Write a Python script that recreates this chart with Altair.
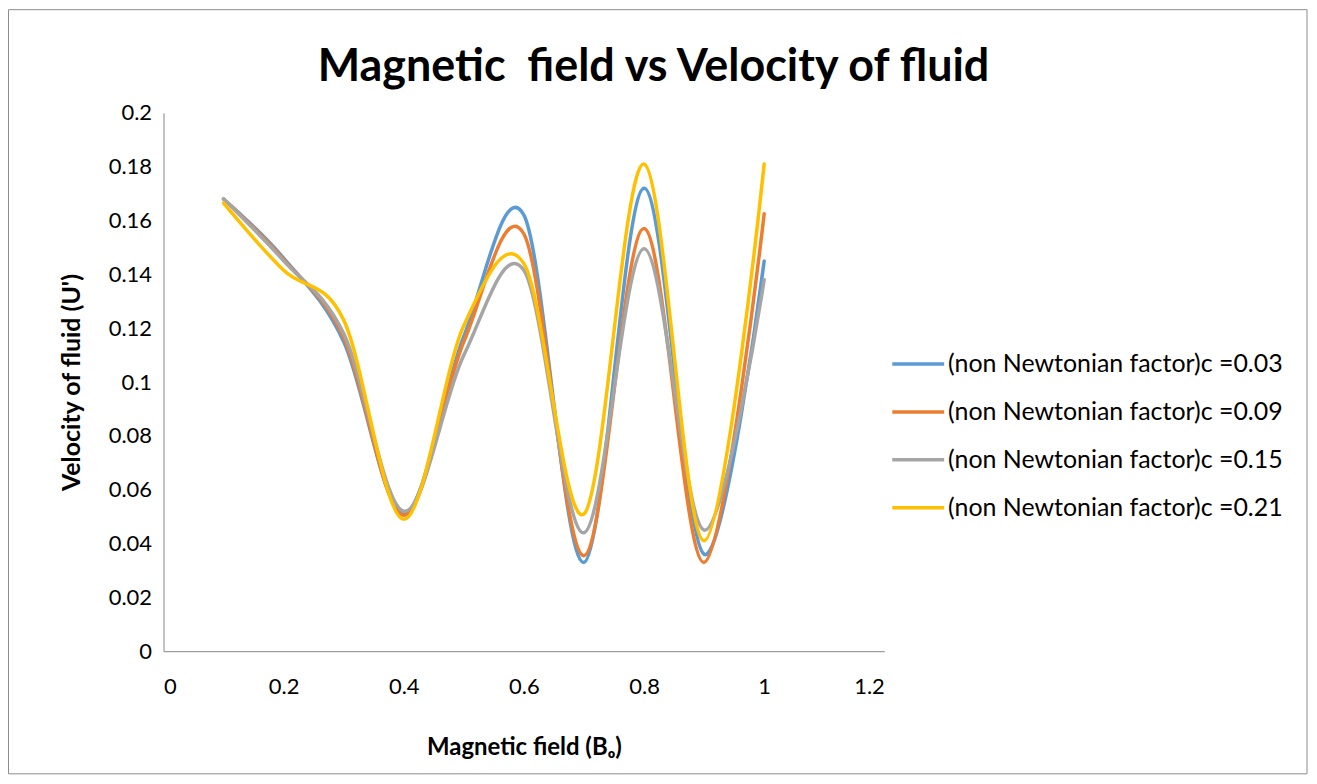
import altair as alt
import pandas as pd

# Magnetic field values (x)
b_field = [0.1, 0.2, 0.3, 0.4, 0.5, 0.6, 0.7, 0.8, 0.9, 1.0]

# Velocity of fluid for each non-Newtonian factor c
c_003 = [0.168, 0.146, 0.115, 0.051, 0.117, 0.162, 0.033, 0.172, 0.036, 0.145]
c_009 = [0.168, 0.1455, 0.1165, 0.0505, 0.115, 0.155, 0.0355, 0.157, 0.033, 0.1625]
c_015 = [0.168, 0.145, 0.118, 0.052, 0.110, 0.1415, 0.044, 0.1495, 0.045, 0.138]
c_021 = [0.1665, 0.1415, 0.123, 0.049, 0.121, 0.144, 0.051, 0.181, 0.041, 0.181]

series_names = [
    "(non Newtonian factor)c =0.03",
    "(non Newtonian factor)c =0.09",
    "(non Newtonian factor)c =0.15",
    "(non Newtonian factor)c =0.21",
]
series_values = [c_003, c_009, c_015, c_021]
series_colors = ["#5B9BD5", "#ED7D31", "#A5A5A5", "#FFC000"]

x_ticks = [0, 0.2, 0.4, 0.6, 0.8, 1.0, 1.2]
y_ticks = [0, 0.02, 0.04, 0.06, 0.08, 0.1, 0.12, 0.14, 0.16, 0.18, 0.2]

rows = []
for name, vals in zip(series_names, series_values):
    for xv, yv in zip(b_field, vals):
        rows.append({"series": name, "B": xv, "U": yv})
df = pd.DataFrame(rows)

FONT = "Lato"
AXIS_GRAY = "#868686"

lines = alt.Chart(df).mark_line(
    interpolate="cardinal", strokeWidth=3.5, strokeCap="round", strokeJoin="round"
).encode(
    x=alt.X(
        "B:Q",
        scale=alt.Scale(domain=[0, 1.2], nice=False, zero=False),
        axis=alt.Axis(
            values=x_ticks, format="~g", grid=False, ticks=False,
            domainColor=AXIS_GRAY, domainWidth=1,
            labelFont=FONT, labelFontSize=22, labelColor="#000000", labelPadding=25,
            title="Magnetic field (B\u2092)", titleFont=FONT, titleFontSize=24,
            titleFontWeight="bold", titleColor="#000000", titlePadding=39,
        ),
    ),
    y=alt.Y(
        "U:Q",
        scale=alt.Scale(domain=[0, 0.2], nice=False),
        axis=alt.Axis(
            values=y_ticks, format="~g", grid=False, ticks=False,
            domainColor=AXIS_GRAY, domainWidth=1,
            labelFont=FONT, labelFontSize=22, labelColor="#000000", labelPadding=12,
            title="Velocity of fluid (U')", titleFont=FONT, titleFontSize=25,
            titleFontWeight="bold", titleColor="#000000", titlePadding=24,
        ),
    ),
    color=alt.Color(
        "series:N",
        scale=alt.Scale(domain=series_names, range=series_colors),
        sort=series_names,
        legend=alt.Legend(
            title=None, orient="none", legendX=729, legendY=224,
            symbolType="stroke", symbolSize=2704, symbolStrokeWidth=3.5,
            labelFont=FONT, labelFontSize=25, labelColor="#000000",
            labelOffset=2, rowPadding=7, labelLimit=500,
        ),
    ),
    order=alt.Order("B:Q"),
)

border = alt.Chart(alt.Data(values=[{}])).mark_rect(
    fill="transparent", stroke="#8C8C8C", strokeWidth=1
).encode(
    x=alt.value(-155.5), x2=alt.value(1147), y=alt.value(-103.5), y2=alt.value(663)
)

chart = alt.layer(border, lines).properties(
    width=723,
    height=540,
    background="white",
    autosize=alt.AutoSizeParams(type="none"),
    padding={"left": 156, "top": 104, "right": 426, "bottom": 124},
    title=alt.TitleParams(
        "Magnetic\u00a0 field vs Velocity of fluid", font=FONT, fontSize=45,
        fontWeight="bold", color="#000000", anchor="middle", frame="group",
        dx=130, offset=-81,
    ),
).configure_view(strokeWidth=0)

chart.save("out.html", embed_options={"renderer": "svg", "actions": False})
